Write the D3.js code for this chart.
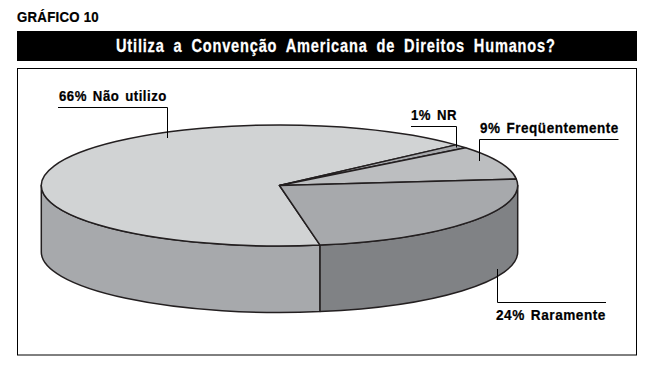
<!DOCTYPE html>
<html>
<head>
<meta charset="utf-8">
<script src="https://d3js.org/d3.v7.min.js"></script>
<style>
  html, body { margin: 0; padding: 0; background: #fff; }
  text { font-family: "Liberation Sans", sans-serif; font-weight: 700; }
</style>
</head>
<body>
<div id="chart"></div>
<script>
const categories = ["Não utilizo", "NR", "Freqüentemente", "Raramente"];
const values = [66, 1, 9, 24];
const topColors = ["#d1d3d4", "#a7a9ac", "#bcbec0", "#a7a9ac"];
const sideColors = ["#a7a9ac", "#808080", "#808080", "#808285"];
const chartLabel = "GRÁFICO 10";
const chartTitle = "Utiliza a Convenção Americana de Direitos Humanos?";

(function() {
  const width = 650;
  const height = 367;
  const cx = 279.5, cy = 185.5, rx = 238.2, ry = 60.5, depth = 66.5;
  const startDeg = 170.2;

  const svg = d3.select("#chart")
    .append("svg")
    .attr("width", width)
    .attr("height", height)
    .style("display", "block");

  // no condensed face is installed, so squeeze each text to its measured width
  const squeeze = (sel, x, y, w) => {
    const natural = sel.node().getComputedTextLength();
    sel.attr("transform", `translate(${x},${y}) scale(${w / natural},1)`);
  };

  svg.append("text")
    .style("font-size", "15.5px")
    .style("letter-spacing", "0.3px")
    .style("stroke", "#000")
    .style("stroke-width", 0.25)
    .text(chartLabel)
    .call(squeeze, 17, 21.5, 82);

  svg.append("rect")
    .attr("x", 17).attr("y", 31)
    .attr("width", 620).attr("height", 30)
    .style("fill", "#000");

  svg.append("text")
    .style("font-size", "18px")
    .style("letter-spacing", "1px")
    .style("word-spacing", "5px")
    .style("fill", "#fff")
    .style("stroke", "#fff")
    .style("stroke-width", 0.25)
    .text(chartTitle)
    .call(squeeze, 116, 52, 440);

  svg.append("rect")
    .attr("x", 17.5).attr("y", 68.5)
    .attr("width", 619).attr("height", 286.5)
    .style("fill", "#fff")
    .style("stroke", "#000")
    .style("stroke-width", 1);

  const pie = d3.pie()
    .sort(null)
    .startAngle(startDeg * Math.PI / 180)
    .endAngle((startDeg + 360) * Math.PI / 180);
  const arcs = pie(values);

  // d3 angle: 0 at 12 o'clock going clockwise, squashed to an ellipse
  const pt = (a, dy) => [cx + rx * Math.sin(a), cy - ry * Math.cos(a) + (dy || 0)];

  // front wall, only the part of each slice between 3 and 9 o'clock
  const frontFrom = Math.PI / 2;
  const frontTo = Math.PI * 1.5;
  const wall = [];
  arcs.forEach((d, i) => {
    for (const shift of [0, Math.PI * 2, -Math.PI * 2]) {
      const a0 = Math.max(d.startAngle + shift, frontFrom);
      const a1 = Math.min(d.endAngle + shift, frontTo);
      if (a1 > a0) wall.push({ a0, a1, fill: sideColors[i] });
    }
  });

  svg.append("g").selectAll("path")
    .data(wall)
    .join("path")
    .attr("d", d => {
      const p0 = pt(d.a0), p1 = pt(d.a1), q1 = pt(d.a1, depth), q0 = pt(d.a0, depth);
      return `M${p0}A${rx},${ry} 0 0 1 ${p1}L${q1}A${rx},${ry} 0 0 0 ${q0}Z`;
    })
    .style("fill", d => d.fill)
    .style("stroke", "#231f20")
    .style("stroke-width", 1.5)
    .style("stroke-linejoin", "round");

  const arc = d3.arc().innerRadius(0).outerRadius(rx);

  svg.append("g")
    .attr("transform", `translate(${cx},${cy}) scale(1,${ry / rx})`)
    .selectAll("path")
    .data(arcs)
    .join("path")
    .attr("d", arc)
    .attr("vector-effect", "non-scaling-stroke")
    .style("fill", (d, i) => topColors[i])
    .style("stroke", "#231f20")
    .style("stroke-width", 1.5)
    .style("stroke-linejoin", "round");

  // leader lines and labels, in the same order as categories
  const leaders = [
    [[58, 107.5], [167.5, 107.5], [167.5, 138]],
    [[411, 126.5], [456.5, 126.5], [456.5, 147.5]],
    [[618.5, 139.5], [479.5, 139.5], [479.5, 161]],
    [[606, 302.5], [497.5, 302.5], [497.5, 269]]
  ];
  const labelPos = [
    { x: 59, y: 100.5, w: 108 },
    { x: 411, y: 120, w: 46 },
    { x: 480, y: 132.5, w: 139 },
    { x: 496, y: 320, w: 110 }
  ];

  svg.append("g").selectAll("path")
    .data(leaders)
    .join("path")
    .attr("d", d3.line())
    .style("fill", "none")
    .style("stroke", "#000")
    .style("stroke-width", 1);

  svg.append("g").selectAll("text")
    .data(categories)
    .join("text")
    .style("font-size", "15.5px")
    .style("letter-spacing", "0.6px")
    .style("word-spacing", "2px")
    .style("fill", "#000")
    .style("stroke", "#000")
    .style("stroke-width", 0.25)
    .text((d, i) => `${values[i]}% ${d}`)
    .each(function(d, i) {
      d3.select(this).call(squeeze, labelPos[i].x, labelPos[i].y, labelPos[i].w);
    });
})();
</script>
</body>
</html>
